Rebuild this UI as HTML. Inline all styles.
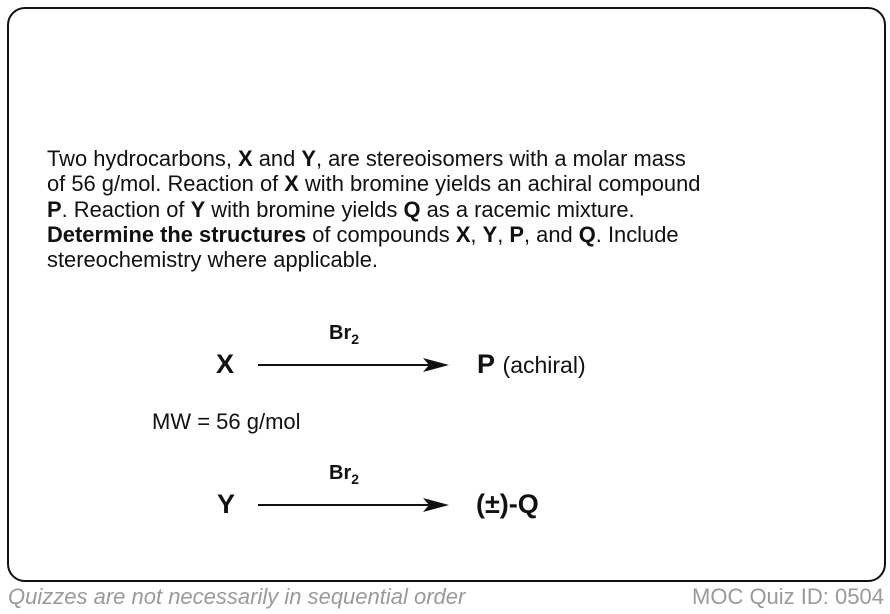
<!DOCTYPE html>
<html><head><style>
body{margin:0;width:890px;height:614px;background:#fff;position:relative;font-family:"Liberation Sans",Arial,sans-serif;overflow:hidden}
.box{position:absolute;left:7px;top:7px;width:875px;height:571px;border:2.5px solid #111;border-radius:18px}
.t{position:absolute;white-space:nowrap;color:#111}
.p{left:47px;top:146px;font-size:21.9px;line-height:25.3px}
.f{font-size:22px;color:#9a9a9a;font-style:italic;top:584px}
</style></head><body>
<div class="box"></div>
<div class="t p">Two hydrocarbons, <b>X</b> and <b>Y</b>, are stereoisomers with a molar mass<br>of 56 g/mol. Reaction of <b>X</b> with bromine yields an achiral compound<br><b>P</b>. Reaction of <b>Y</b> with bromine yields <b>Q</b> as a racemic mixture.<br><b>Determine the structures</b> of compounds <b>X</b>, <b>Y</b>, <b>P</b>, and <b>Q</b>. Include<br>stereochemistry where applicable.</div>
<div class="t" style="left:329px;top:322px;font-size:20px;font-weight:bold">Br<sub style="font-size:14px">2</sub></div>
<div class="t" style="left:216px;top:349px;font-size:27px;font-weight:bold">X</div>
<div class="t" style="left:477px;top:349px;font-size:27px"><b>P</b> <span style="font-size:23px">(achiral)</span></div>
<div class="t" style="left:152px;top:409px;font-size:22px">MW = 56 g/mol</div>
<div class="t" style="left:329px;top:462px;font-size:20px;font-weight:bold">Br<sub style="font-size:14px">2</sub></div>
<div class="t" style="left:217px;top:489px;font-size:27px;font-weight:bold">Y</div>
<div class="t" style="left:476px;top:489px;font-size:27px;font-weight:bold">(±)-Q</div>
<svg style="position:absolute;left:0;top:0" width="890" height="614">
<line x1="258" y1="365" x2="435" y2="365" stroke="#111" stroke-width="2"/>
<polygon points="449,365 423,358 429,365 423,372" fill="#111"/>
<line x1="258" y1="505" x2="435" y2="505" stroke="#111" stroke-width="2"/>
<polygon points="449,505 423,498 429,505 423,512" fill="#111"/>
</svg>
<div class="t f" style="left:8px">Quizzes are not necessarily in sequential order</div>
<div class="t f" style="left:692px;font-style:normal">MOC Quiz ID: 0504</div>
</body></html>
